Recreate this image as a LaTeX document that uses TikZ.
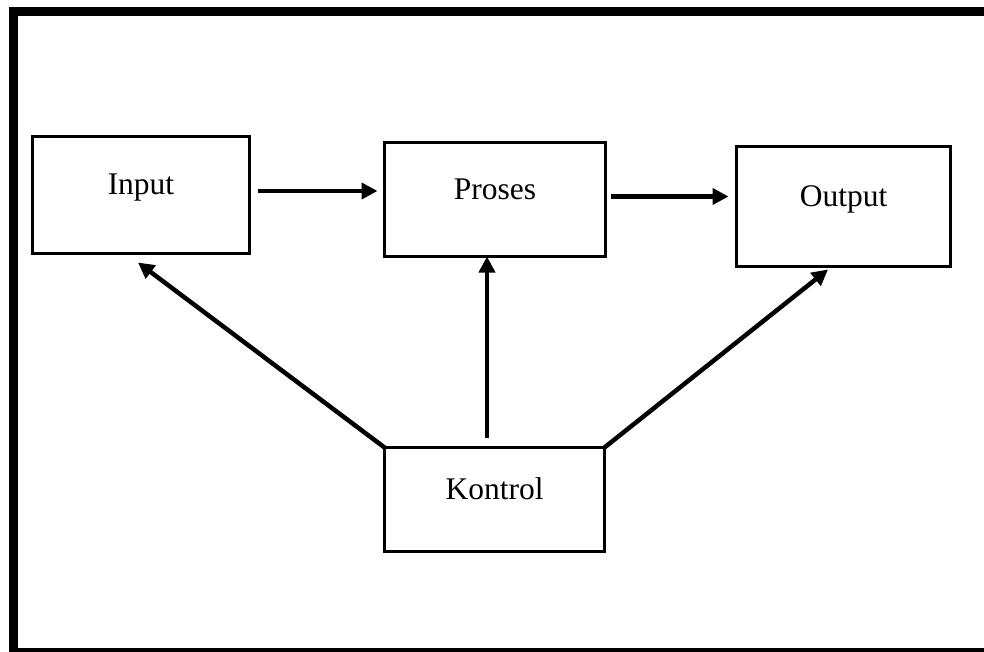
\documentclass[tikz,border=0pt]{standalone}
\usepackage{fontspec}
\setmainfont{Liberation Serif}
\usetikzlibrary{arrows.meta}
\begin{document}
\begin{tikzpicture}[x=1pt,y=-1pt,
  blockbox/.style={draw,line width=2.5pt,inner sep=0pt,outer sep=0pt},
  blocktext/.style={anchor=base,inner sep=0pt,font=\fontsize{31.5}{36}\selectfont},
  flowarrow/.style={line width=4.5pt,-{Triangle[length=16pt,width=16pt]}}]
  \useasboundingbox (0,0) rectangle (984,652);
  % page frame (left, top and bottom rules)
  \fill (9,7) rectangle (18,652);
  \fill (9,7) rectangle (984,16);
  \fill (9,648) rectangle (984,652);
  % blocks
  \node[blockbox,minimum width=217pt,minimum height=117pt] (input)   at (141,195)   {};
  \node[blockbox,minimum width=221pt,minimum height=114pt] (proses)  at (495,199.5) {};
  \node[blockbox,minimum width=214pt,minimum height=120pt] (output)  at (843.5,206.5) {};
  \node[blockbox,minimum width=220pt,minimum height=104pt] (kontrol) at (494.5,499.5) {};
  % block labels
  \node[blocktext] (inputtext)   at (input.center)   {Input};
  \node[blocktext] (prosestext)  at (proses.center)  {Proses};
  \node[blocktext] (outputtext)  at (output.center)  {Output};
  \node[blocktext] (kontroltext) at (kontrol.center) {Kontrol};
  % data flow
  \draw[flowarrow,shorten <=8pt,shorten >=7pt]
    ([yshift=4pt]input.east) -- ([yshift=4pt]input.east -| proses.west);
  \draw[flowarrow,shorten <=5pt,shorten >=8pt]
    ([yshift=3pt]proses.east) -- ([yshift=3pt]proses.east -| output.west);
  % control links
  \draw[flowarrow,shorten <=10pt]
    ([xshift=-7.5pt]kontrol.north) -- ([xshift=-7.5pt]kontrol.north |- proses.south);
  \draw[flowarrow] (kontrol.north west) -- ([xshift=-3pt,yshift=-9pt]input.south);
  \draw[flowarrow] (kontrol.north east) -- ([xshift=-15.5pt,yshift=-3pt]output.south);
\end{tikzpicture}
\end{document}
